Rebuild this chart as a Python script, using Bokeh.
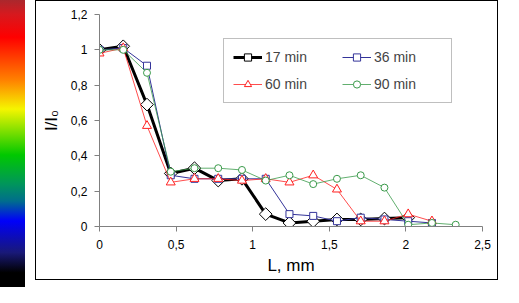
import numpy as np
from bokeh.plotting import figure
from bokeh.models import (Legend, LegendItem, FixedTicker, CustomJSTickFormatter,
                          Range1d, Div, Spacer)
from bokeh.layouts import row
from bokeh.embed import file_html
from bokeh.resources import INLINE

# ---- data ----
L = [0, 0.155, 0.31, 0.465, 0.62, 0.775, 0.93, 1.085, 1.24, 1.395, 1.55,
     1.705, 1.86, 2.015, 2.17, 2.325]
s17 = [1.0, 1.02, 0.69, 0.30, 0.33, 0.26, 0.27, 0.07, 0.02, 0.03, 0.04,
       0.04, 0.045, 0.05]
s36 = [1.0, 1.01, 0.91, 0.29, 0.27, 0.27, 0.27, 0.27, 0.07, 0.06, 0.03,
       0.05, 0.04, 0.03, 0.02]
s60 = [0.98, 1.01, 0.57, 0.25, 0.27, 0.27, 0.26, 0.27, 0.25, 0.29, 0.21,
       0.03, 0.03, 0.07, 0.03]
s90 = [1.0, 1.0, 0.87, 0.31, 0.33, 0.33, 0.32, 0.26, 0.29, 0.24, 0.27,
       0.29, 0.22, 0.01, 0.02, 0.01]
labels = ["17 min", "36 min", "60 min", "90 min"]
x_ticks = [0, 0.5, 1, 1.5, 2, 2.5]
y_ticks = [0, 0.2, 0.4, 0.6, 0.8, 1, 1.2]

FONT = "Liberation Sans"
H = 287

# ---- colour strip on the left (decoration) ----
grad = ("linear-gradient(to bottom, rgb(170,40,45) 0%, rgb(215,25,30) 5%, "
        "rgb(255,0,0) 13%, rgb(255,130,0) 28%, rgb(245,245,0) 38%, "
        "rgb(0,200,0) 54%, rgb(0,150,90) 64%, rgb(0,110,140) 70%, "
        "rgb(0,0,250) 77%, rgb(25,25,120) 88%, rgb(0,0,0) 95%, rgb(0,0,0) 100%)")
strip = Div(text="", width=25, height=H, margin=0,
            styles={"background": grad})
gap = Spacer(width=10, height=H, margin=0)

# ---- main chart ----
p = figure(width=463, height=280, x_range=Range1d(0, 2.5), y_range=Range1d(0, 1.2),
           output_backend="svg", toolbar_location=None,
           min_border_left=63, min_border_right=17, min_border_top=13,
           min_border_bottom=55, margin=0)
p.styles = {"border": "1px solid black"}
p.grid.visible = False
p.outline_line_color = None
p.background_fill_color = "white"
p.border_fill_color = "white"

fmt = CustomJSTickFormatter(code="return String(Math.round(tick*10)/10).replace('.', ',');")
for ax, ticks in ((p.xaxis[0], x_ticks), (p.yaxis[0], y_ticks)):
    ax.ticker = FixedTicker(ticks=ticks)
    ax.formatter = fmt
    ax.minor_tick_line_color = None
    ax.major_tick_in = 0
    ax.major_tick_out = 5
    ax.axis_line_color = "#808080"
    ax.major_tick_line_color = "#808080"
    ax.major_label_text_font = FONT
    ax.major_label_text_font_size = "12px"
    ax.major_label_text_color = "black"
    ax.axis_label_text_font = FONT
    ax.axis_label_text_font_size = "17px"
    ax.axis_label_text_font_style = "normal"
    ax.axis_label_text_color = "black"
p.xaxis.axis_label = "L, mm"
p.yaxis.axis_label = "I/I\u2080"
p.xaxis.major_label_standoff = 8
p.xaxis.axis_label_standoff = 4
p.yaxis.major_label_standoff = 7
p.yaxis.axis_label_standoff = 7

series = [
    (s17, "black", 3, dict(marker="square", angle=np.pi / 4, size=9)),
    (s36, "#333399", 1, dict(marker="square", size=7)),
    (s60, "#ff2020", 0.8, dict(marker="triangle", size=9)),
    (s90, "#3a9a4a", 0.8, dict(marker="circle", size=7)),
]
items = []
for (ys, col, lw, mk), lab in zip(series, labels):
    xs = L[:len(ys)]
    r1 = p.line(xs, ys, line_color=col, line_width=lw)
    r2 = p.scatter(xs, ys, fill_color="white", line_color=col, line_width=1, **mk)
    items.append(LegendItem(label=lab, renderers=[r1, r2]))

legend = Legend(items=items, location=(124, 123), orientation="horizontal", ncols=2,
                border_line_color="#808080", border_line_width=1,
                background_fill_color="white", background_fill_alpha=1,
                label_text_font=FONT, label_text_font_size="14px",
                glyph_width=29, glyph_height=18, label_height=18, label_width=68,
                label_standoff=3, padding=9, spacing=9, margin=0)
p.add_layout(legend)

layout = row(strip, gap, p, margin=0)
open("out.html", "w").write(file_html(layout, INLINE))
